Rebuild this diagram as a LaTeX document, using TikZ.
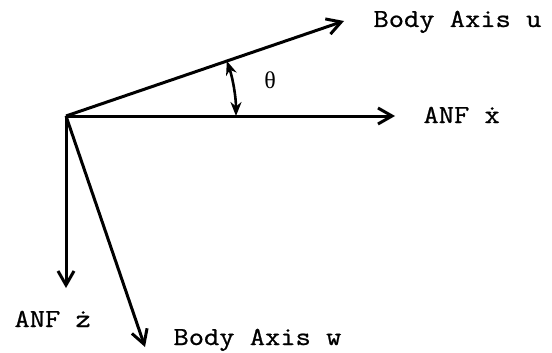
\documentclass[tikz,border=0pt]{standalone}
\usepackage{fontspec}
\setmonofont{Latin Modern Mono}[FakeStretch=1.14,FakeBold=0.8]
\newfontfamily\thfont{Liberation Serif}
\usetikzlibrary{arrows.meta}

\begin{document}
\begin{tikzpicture}[x=1pt,y=-1pt,line width=3pt,
    axis/.style={-{Straight Barb[length=14pt,width=16pt,line width=3pt]}},
    ang/.style={{Stealth[length=14pt,width=11pt]}-{Stealth[length=14pt,width=11pt]},line width=2.6pt},
    lbl/.style={font=\fontsize{26}{28}\selectfont\ttfamily,inner sep=0pt,anchor=base west}]
    \useasboundingbox (0,0) rectangle (552,353);

    \coordinate (O) at (66,116);
    \coordinate (u) at (344,21);
    \coordinate (x) at (395,116);
    \coordinate (z) at (66,288);
    \coordinate (w) at (145,347);

    \draw[axis] (O) -- (u);
    \draw[axis] (O) -- (x);
    \draw[axis] (O) -- (z);
    \draw[axis] (O) -- (w);

    % angle between u and x
    \draw[ang] (O) ++(0:170) arc[start angle=0,end angle=-18.9,radius=170];
    \node[font=\fontsize{24}{26}\selectfont\thfont,inner sep=0pt] (th) at (270,80) {θ};

    \node[lbl] (lu) at (372,27) {Body Axis u};
    \node[lbl] (lx) at (422,123) {ANF \.x};
    \node[lbl] (lz) at (13,327) {ANF \.z};
    \node[lbl] (lw) at (172,345) {Body Axis w};
\end{tikzpicture}
\end{document}
